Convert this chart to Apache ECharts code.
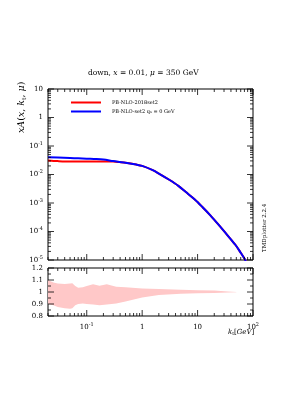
<!DOCTYPE html>
<html><head><meta charset="utf-8">
<script src="https://cdn.jsdelivr.net/npm/echarts@6/dist/echarts.min.js"></script>
<style>html,body{margin:0;padding:0;background:#fff}#c{width:289px;height:409px}</style>
</head><body><div id="c"></div>
<script>
// ---- data ----
const kt = [0.02, 0.03, 0.05, 0.07, 0.1, 0.15, 0.2, 0.3, 0.39, 0.5, 0.78, 1.0, 1.55, 2.0, 3.08, 4.5, 6.15, 9.0, 12.2, 17, 24.3, 35, 48.4, 60, 71, 100];
const pbNlo2018set2 = [0.031, 0.0295, 0.0285, 0.0285, 0.0287, 0.0288, 0.0288, 0.0285, 0.0272, 0.0258, 0.0223, 0.0200, 0.0142, 0.0108, 0.00653, 0.0040, 0.00242, 0.0013, 0.000726, 0.00037, 0.000167, 0.000072, 0.0000336, 0.000018, 0.0000107, 0.0000025];
const pbNloSet2qs0  = [0.040, 0.0395, 0.038, 0.037, 0.036, 0.035, 0.0335, 0.0295, 0.0275, 0.0258, 0.0223, 0.0200, 0.0142, 0.0108, 0.00653, 0.0040, 0.00242, 0.0013, 0.000726, 0.00037, 0.000167, 0.000072, 0.0000336, 0.000018, 0.0000107, 0.0000025];
const ratioKt   = [0.02, 0.025, 0.03, 0.04, 0.05, 0.055, 0.062, 0.07, 0.085, 0.1, 0.13, 0.17, 0.23, 0.34, 0.5, 1, 2, 5, 10, 20, 35, 50];
const ratioLow  = [0.90, 0.89, 0.875, 0.865, 0.86, 0.865, 0.89, 0.90, 0.905, 0.90, 0.895, 0.89, 0.895, 0.905, 0.92, 0.955, 0.975, 0.985, 0.99, 0.992, 0.995, 0.998];
const ratioHigh = [1.10, 1.08, 1.07, 1.067, 1.07, 1.072, 1.05, 1.036, 1.039, 1.05, 1.064, 1.053, 1.064, 1.044, 1.04, 1.03, 1.025, 1.018, 1.015, 1.013, 1.005, 1.0];
const xMajorTicks = [0.1, 1, 10, 100];
const yMajorTicks = [1e-5, 1e-4, 1e-3, 1e-2, 1e-1, 1, 10];
const ratioMajorTicks = [0.8, 0.9, 1, 1.1, 1.2];
const ratioMinorTicks = [0.85, 0.95, 1.05, 1.15];

function logMinor(lo, hi) {
  const out = [];
  for (let d = -6; d <= 2; d++) for (let m = 2; m <= 9; m++) {
    const v = m * Math.pow(10, d);
    if (v >= lo * 0.9999 && v <= hi * 1.0001) out.push(v);
  }
  return out;
}
const xMinor = logMinor(0.02, 100);
const yMinor = logMinor(1e-5, 10);

const FONT = '"DejaVu Serif", "Liberation Serif", serif';

function powLabel(v) {
  const l = Math.log10(v), e = Math.round(l);
  if (Math.abs(l - e) > 1e-6) return '';
  if (e === 0) return '1';
  if (e === 1) return '10';
  return '10{s|' + e + '}';
}
const richSup = { s: { fontSize: 5, lineHeight: 5, verticalAlign: 'top', fontFamily: FONT, color: '#000' } };

function tickSeries(xi, yi, xMaj, xMin, yMaj, yMin, xRef, yRef) {
  return {
    type: 'custom', xAxisIndex: xi, yAxisIndex: yi, silent: true, clip: false, z: 10,
    data: [[xRef, yRef]],
    renderItem(params, api) {
      const cs = params.coordSys;
      const ch = [];
      const st = { stroke: '#000', lineWidth: 0.8 };
      const addX = (v, len) => {
        const px = api.coord([v, yRef])[0];
        ch.push({ type: 'line', shape: { x1: px, y1: cs.y + cs.height, x2: px, y2: cs.y + cs.height - len }, style: st });
        ch.push({ type: 'line', shape: { x1: px, y1: cs.y, x2: px, y2: cs.y + len }, style: st });
      };
      const addY = (v, len) => {
        const py = api.coord([xRef, v])[1];
        ch.push({ type: 'line', shape: { x1: cs.x, y1: py, x2: cs.x + len, y2: py }, style: st });
        ch.push({ type: 'line', shape: { x1: cs.x + cs.width, y1: py, x2: cs.x + cs.width - len, y2: py }, style: st });
      };
      xMaj.forEach(v => addX(v, 6)); xMin.forEach(v => addX(v, 3));
      yMaj.forEach(v => addY(v, 6)); yMin.forEach(v => addY(v, 3));
      return { type: 'group', children: ch };
    }
  };
}

const chart = echarts.init(document.getElementById('c'), null, { renderer: 'canvas' });
const zip = (a, b) => a.map((x, i) => [x, b[i]]);

chart.setOption({
  animation: false,
  backgroundColor: '#fff',
  textStyle: { fontFamily: FONT },
  grid: [
    { left: 48, top: 89, width: 205, height: 171, show: true, borderColor: '#000', borderWidth: 1, backgroundColor: 'transparent' },
    { left: 48, top: 268, width: 205, height: 48, show: true, borderColor: '#000', borderWidth: 1, backgroundColor: 'transparent' }
  ],
  xAxis: [
    { type: 'log', gridIndex: 0, min: 0.02, max: 100, axisLine: { show: false }, axisTick: { show: false }, axisLabel: { show: false }, splitLine: { show: false } },
    { type: 'log', gridIndex: 1, min: 0.02, max: 100, axisLine: { show: false }, axisTick: { show: false }, splitLine: { show: false },
      axisLabel: { fontSize: 7, color: '#000', fontFamily: FONT, margin: 6, lineHeight: 10, rich: richSup, formatter: v => powLabel(v), showMinLabel: false } }
  ],
  yAxis: [
    { type: 'log', gridIndex: 0, min: 1e-5, max: 10, splitNumber: 6, axisLine: { show: false }, axisTick: { show: false }, splitLine: { show: false },
      axisLabel: { fontSize: 7, color: '#000', fontFamily: FONT, margin: 5, lineHeight: 10, rich: richSup, formatter: v => powLabel(v) } },
    { type: 'value', gridIndex: 1, min: 0.8, max: 1.2, interval: 0.1, axisLine: { show: false }, axisTick: { show: false }, splitLine: { show: false },
      axisLabel: { fontSize: 7, color: '#000', fontFamily: FONT, margin: 5, formatter: v => String(+v.toFixed(2)) } }
  ],
  legend: {
    left: 66, top: 95, orient: 'vertical', itemWidth: 30, itemHeight: 2, itemGap: 4,
    icon: 'rect', selectedMode: false,
    textStyle: { fontSize: 5, color: '#000', fontFamily: FONT, padding: [0, 0, 0, 6],
      rich: { sub: { fontSize: 3.5, verticalAlign: 'bottom', lineHeight: 4, fontFamily: FONT, color: '#000' } } },
    data: ['PB-NLO-2018set2', 'PB-NLO-set2 q_s = 0 GeV'],
    formatter: n => n === 'PB-NLO-set2 q_s = 0 GeV' ? 'PB-NLO-set2 q{sub|s} = 0 GeV' : n
  },
  series: [
    { name: 'PB-NLO-2018set2', type: 'line', xAxisIndex: 0, yAxisIndex: 0, data: zip(kt, pbNlo2018set2), smooth: 0.3, showSymbol: false,
      lineStyle: { color: '#ff0000', width: 2 }, itemStyle: { color: '#ff0000' } },
    { name: 'PB-NLO-set2 q_s = 0 GeV', type: 'line', xAxisIndex: 0, yAxisIndex: 0, data: zip(kt, pbNloSet2qs0), smooth: 0.3, showSymbol: false,
      lineStyle: { color: '#0000ff', width: 2 }, itemStyle: { color: '#0000ff' } },
    { type: 'custom', xAxisIndex: 1, yAxisIndex: 1, silent: true, z: 1,
      data: ratioKt.map((k, i) => [k, ratioLow[i], ratioHigh[i]]),
      encode: { x: 0, y: [1, 2] },
      renderItem(params, api) {
        if (params.dataIndex !== 0) return;
        const up = ratioKt.map((k, i) => api.coord([k, ratioHigh[i]]));
        const lo = ratioKt.map((k, i) => api.coord([k, ratioLow[i]])).reverse();
        return { type: 'polygon', shape: { points: up.concat(lo) }, style: { fill: '#ffc8c8' } };
      }
    },
    tickSeries(0, 0, xMajorTicks, xMinor, yMajorTicks, yMinor, 1, 1),
    tickSeries(1, 1, xMajorTicks, xMinor, ratioMajorTicks, ratioMinorTicks, 1, 1)
  ],
  graphic: [
    { type: 'text', x: 88, y: 69, style: { text: 'down, {i|x} = 0.01, {i|μ} = 350 GeV', fontSize: 7.5, fontFamily: FONT, fill: '#000',
        rich: { i: { fontStyle: 'italic', fontSize: 7.5, fontFamily: FONT } } } },
    { type: 'text', x: 17, y: 133, rotation: Math.PI / 2,
      style: { text: '{i|xA}({i|x}, {i|k}{s|t}, {i|μ})', fontSize: 9.5, fontFamily: FONT, fill: '#000',
        rich: { i: { fontStyle: 'italic', fontSize: 9.5, fontFamily: FONT }, s: { fontSize: 6, verticalAlign: 'bottom', lineHeight: 7, fontFamily: FONT } } } },
    { type: 'text', x: 262, y: 252, rotation: Math.PI / 2,
      style: { text: 'TMDplotter 2.2.4', fontSize: 5.5, fontFamily: FONT, fill: '#000' } },
    { type: 'text', x: 228, y: 329,
      style: { text: '{i|k}{s|t}[{i|GeV}]', fontSize: 7, fontFamily: FONT, fill: '#000',
        rich: { i: { fontStyle: 'italic', fontSize: 7, fontFamily: FONT }, s: { fontSize: 4.5, verticalAlign: 'bottom', lineHeight: 5, fontFamily: FONT } } } }
  ]
});
</script></body></html>
